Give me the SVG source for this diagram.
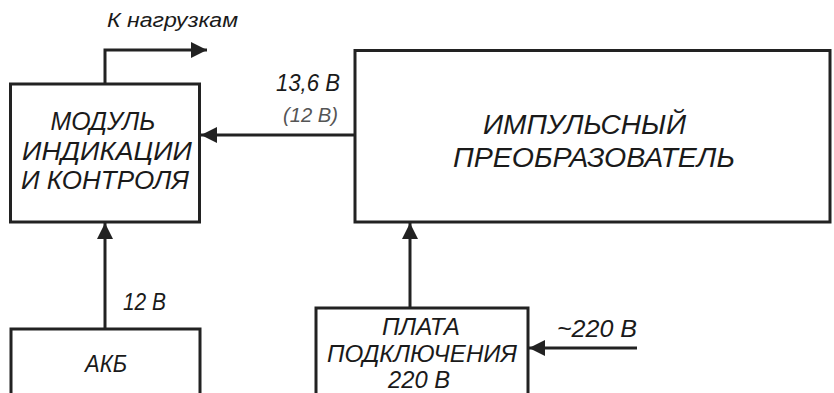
<svg xmlns="http://www.w3.org/2000/svg" width="834" height="393" viewBox="0 0 834 393">
<defs>
<style>
.box{fill:#fff;stroke:#222;stroke-width:3}
.wire{fill:none;stroke:#222;stroke-width:3}
.t{font-family:"Liberation Sans",Arial,sans-serif;font-style:italic;fill:#1a1a1a}
.c{text-anchor:middle}
.light{fill:#555}
</style>
<marker id="ah" viewBox="0 0 16 16" refX="16" refY="8" markerWidth="16" markerHeight="16" markerUnits="userSpaceOnUse" orient="auto">
<path d="M0,0 L16,8 L0,16 z" fill="#222"/>
</marker>
</defs>
<rect width="834" height="393" fill="#fff"/>
<g id="connectors">
<polyline class="wire" points="105,83 105,50 207,50" marker-end="url(#ah)"/>
<line class="wire" x1="355" y1="135" x2="201" y2="135" marker-end="url(#ah)"/>
<line class="wire" x1="105" y1="329" x2="105" y2="223" marker-end="url(#ah)"/>
<line class="wire" x1="410" y1="307" x2="410" y2="223" marker-end="url(#ah)"/>
<line class="wire" x1="637" y1="348" x2="529" y2="348" marker-end="url(#ah)"/>
<text class="t" x="107" y="27" style="font-size:20px" textLength="131" lengthAdjust="spacingAndGlyphs">К  нагрузкам</text>
<text class="t" x="276" y="91" style="font-size:24px" textLength="64" lengthAdjust="spacingAndGlyphs">13,6 В</text>
<text class="t light" x="283" y="122" style="font-size:21px" textLength="55" lengthAdjust="spacingAndGlyphs">(12 В)</text>
<text class="t" x="123" y="310" style="font-size:23px" textLength="43" lengthAdjust="spacingAndGlyphs">12 В</text>
<text class="t" x="557" y="337" style="font-size:23px" textLength="80" lengthAdjust="spacingAndGlyphs">~220 В</text>
</g>
<g id="module">
<rect class="box" x="10.5" y="84" width="189" height="138"/>
<text class="t c" x="103" y="130" style="font-size:25px" textLength="105" lengthAdjust="spacingAndGlyphs">МОДУЛЬ</text>
<text class="t c" x="107" y="160" style="font-size:25px" textLength="170" lengthAdjust="spacingAndGlyphs">ИНДИКАЦИИ</text>
<text class="t c" x="105" y="189" style="font-size:25px" textLength="168" lengthAdjust="spacingAndGlyphs">И КОНТРОЛЯ</text>
</g>
<g id="converter">
<rect class="box" x="355" y="50.5" width="475" height="171.5"/>
<text class="t" x="483" y="134" style="font-size:27px" textLength="203" lengthAdjust="spacingAndGlyphs">ИМПУЛЬСНЫЙ</text>
<text class="t" x="453" y="167" style="font-size:27px" textLength="282" lengthAdjust="spacingAndGlyphs">ПРЕОБРАЗОВАТЕЛЬ</text>
</g>
<g id="akb">
<rect class="box" x="11" y="329" width="189" height="80"/>
<text class="t" x="85" y="372" style="font-size:24px" textLength="42" lengthAdjust="spacingAndGlyphs">АКБ</text>
</g>
<g id="plata">
<rect class="box" x="316" y="308" width="212" height="100"/>
<text class="t c" x="421" y="335" style="font-size:24px" textLength="78" lengthAdjust="spacingAndGlyphs">ПЛАТА</text>
<text class="t c" x="422" y="362" style="font-size:24px" textLength="190" lengthAdjust="spacingAndGlyphs">ПОДКЛЮЧЕНИЯ</text>
<text class="t c" x="419" y="388" style="font-size:24px" textLength="62" lengthAdjust="spacingAndGlyphs">220 В</text>
</g>
</svg>
